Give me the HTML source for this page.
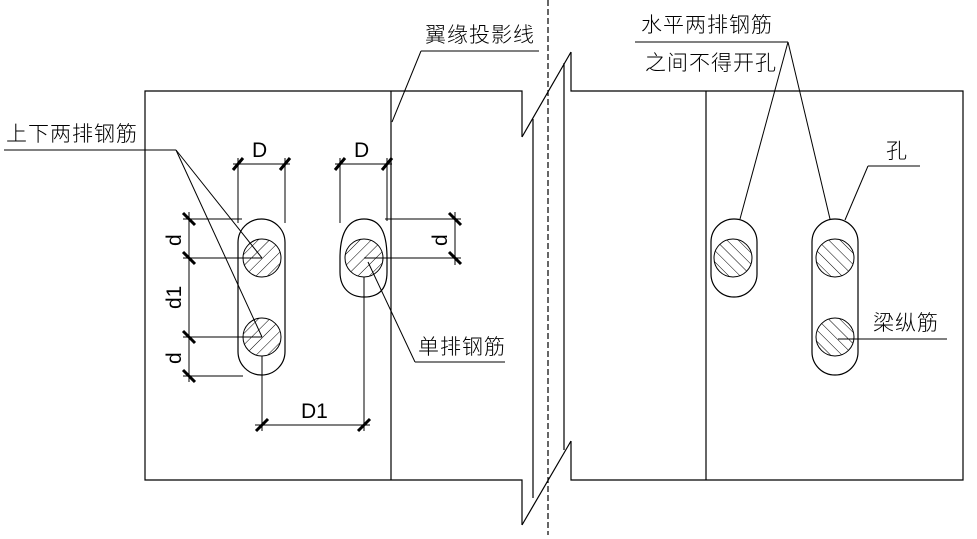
<!DOCTYPE html>
<html><head><meta charset="utf-8"><style>
html,body{margin:0;padding:0;background:#fff;}
svg{display:block;}
text{font-family:"Liberation Sans","Noto Sans CJK SC",sans-serif;fill:#000;}
.cj{font-family:"Noto Sans CJK SC","WenQuanYi Zen Hei",sans-serif;font-size:21px;font-weight:300;letter-spacing:1px;}
.lt{font-size:21px;}
</style></head><body>
<svg width="977" height="539" viewBox="0 0 977 539" xmlns="http://www.w3.org/2000/svg">
<defs>
<pattern id="h1" width="8" height="8" patternUnits="userSpaceOnUse" patternTransform="rotate(45)"><line x1="0" y1="0" x2="0" y2="8" stroke="#000" stroke-width="1"/></pattern>
<pattern id="h2" width="8" height="8" patternUnits="userSpaceOnUse" patternTransform="rotate(-45)"><line x1="0" y1="0" x2="0" y2="8" stroke="#000" stroke-width="1"/></pattern>
</defs>
<g fill="none" stroke="#000" stroke-width="1.2">
<polyline points="522,137 522,91 145,91 145,480 522,480 522,525"/>
<line x1="522" y1="137" x2="571" y2="52"/>
<line x1="522" y1="525" x2="571" y2="441"/>
<line x1="533" y1="119" x2="533" y2="498"/>
<line x1="564" y1="63" x2="564" y2="450"/>
<polyline points="571,52 571,91 963,91 963,480 571,480 571,441"/>
<line x1="391" y1="91" x2="391" y2="480"/>
<line x1="706" y1="91" x2="706" y2="480"/>
<line x1="548" y1="0" x2="548" y2="535" stroke-dasharray="6,3"/>
<rect x="238" y="219" width="47" height="156" rx="23.5"/>
<path d="M340,258 C340,230 350,219 364,219 C380,219 387,232 387,258 L387,272 C387,290 378,297 364,297 C350,297 340,288 340,272 Z"/>
<rect x="711" y="219" width="46" height="78" rx="23"/>
<rect x="812" y="219" width="46" height="156" rx="23"/>
</g>
<g stroke="#000" stroke-width="1">
<circle cx="262" cy="258" r="19" fill="url(#h1)"/>
<circle cx="262" cy="337" r="19" fill="url(#h1)"/>
<circle cx="364" cy="258" r="19" fill="url(#h1)"/>
<circle cx="733" cy="258" r="19" fill="url(#h2)"/>
<circle cx="835" cy="258" r="19" fill="url(#h2)"/>
<circle cx="835" cy="337" r="19" fill="url(#h2)"/>
</g>
<g fill="none" stroke="#000" stroke-width="1">
<line x1="233" y1="164" x2="290" y2="164"/>
<line x1="238" y1="158" x2="238" y2="223"/><line x1="285" y1="158" x2="285" y2="223"/>
<line x1="335" y1="164" x2="392" y2="164"/>
<line x1="340" y1="158" x2="340" y2="223"/><line x1="387" y1="158" x2="387" y2="221"/>
<line x1="189" y1="212" x2="189" y2="382"/>
<line x1="183" y1="219" x2="242" y2="219"/>
<line x1="183" y1="258" x2="262" y2="258"/>
<line x1="183" y1="337" x2="262" y2="337"/>
<line x1="183" y1="376" x2="243" y2="376"/>
<line x1="455" y1="212" x2="455" y2="265"/>
<line x1="385" y1="219" x2="461" y2="219"/>
<line x1="364" y1="258" x2="461" y2="258"/>
<line x1="255" y1="425" x2="370" y2="425"/>
<line x1="262" y1="356" x2="262" y2="431"/>
<line x1="364" y1="277" x2="364" y2="431"/>
<line x1="4" y1="150" x2="176" y2="150"/>
<line x1="176" y1="150" x2="262" y2="258"/>
<line x1="176" y1="150" x2="262" y2="337"/>
<line x1="415" y1="362" x2="505" y2="362"/>
<line x1="415" y1="362" x2="368" y2="262"/>
<line x1="421" y1="51" x2="539" y2="51"/>
<line x1="421" y1="51" x2="392" y2="122"/>
<line x1="635" y1="42" x2="788" y2="42"/>
<line x1="788" y1="42" x2="740" y2="219"/>
<line x1="788" y1="42" x2="830" y2="219"/>
<line x1="868" y1="166" x2="920" y2="166"/>
<line x1="868" y1="166" x2="845" y2="220"/>
<line x1="838" y1="339" x2="947" y2="339"/>
</g>
<g stroke="#000" stroke-width="3">
<line x1="233" y1="170" x2="243" y2="158"/><line x1="280" y1="170" x2="290" y2="158"/>
<line x1="335" y1="170" x2="345" y2="158"/><line x1="382" y1="170" x2="392" y2="158"/>
<line x1="256" y1="431" x2="268" y2="419"/><line x1="358" y1="431" x2="370" y2="419"/>
<line x1="183" y1="213" x2="195" y2="225"/><line x1="183" y1="252" x2="195" y2="264"/>
<line x1="183" y1="331" x2="195" y2="343"/><line x1="183" y1="370" x2="195" y2="382"/>
<line x1="449" y1="213" x2="461" y2="225"/><line x1="449" y1="252" x2="461" y2="264"/>
</g>
<text class="lt" x="252" y="157">D</text>
<text class="lt" x="354" y="157">D</text>
<text class="lt" x="301" y="418">D1</text>
<text class="lt" transform="translate(181,246) rotate(-90)">d</text>
<text class="lt" transform="translate(181,309) rotate(-90)">d1</text>
<text class="lt" transform="translate(181,364) rotate(-90)">d</text>
<text class="lt" transform="translate(447,246) rotate(-90)">d</text>
<text class="cj" x="6" y="141">上下两排钢筋</text>
<text class="cj" x="425" y="42">翼缘投影线</text>
<text class="cj" x="418" y="354">单排钢筋</text>
<text class="cj" x="641" y="32">水平两排钢筋</text>
<text class="cj" x="645" y="70">之间不得开孔</text>
<text class="cj" x="886" y="158">孔</text>
<text class="cj" x="873" y="330">梁纵筋</text>
</svg>
</body></html>
